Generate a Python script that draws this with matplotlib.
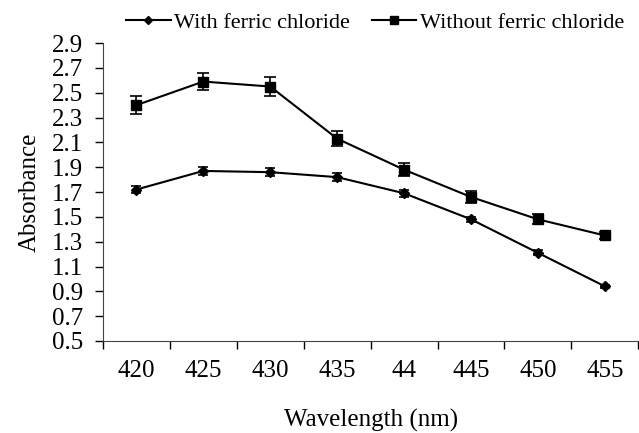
# Absorbance vs wavelength, with and without ferric chloride
import numpy as np
import matplotlib
matplotlib.use("Agg")
import matplotlib.pyplot as plt
from matplotlib.lines import Line2D

plt.rcParams['font.family'] = ['Liberation Serif', 'DejaVu Serif']

wavelength_labels = ["420", "425", "430", "435", "44", "445", "450", "455"]
with_fecl3 = [1.72, 1.87, 1.86, 1.82, 1.69, 1.48, 1.21, 0.94]
with_err = [0.03, 0.03, 0.03, 0.03, 0.03, 0.02, 0.02, 0.01]
without_fecl3 = [2.40, 2.59, 2.55, 2.13, 1.88, 1.66, 1.48, 1.35]
without_err = [0.07, 0.07, 0.08, 0.06, 0.05, 0.05, 0.04, 0.03]
y_ticks = [0.5, 0.7, 0.9, 1.1, 1.3, 1.5, 1.7, 1.9, 2.1, 2.3, 2.5, 2.7, 2.9]


def main():
    fig = plt.figure(figsize=(6.39, 4.33), dpi=100)
    ax = fig.add_axes([0.161, 0.2125, 0.838, 0.688])
    x = np.arange(len(wavelength_labels))

    ax.errorbar(x, with_fecl3, yerr=with_err, color='black', marker='D',
                markersize=5, linewidth=1.5, capsize=3.5, elinewidth=1.2,
                capthick=1.2)
    ax.errorbar(x, without_fecl3, yerr=without_err, color='black', marker='s',
                markersize=7, linewidth=1.5, capsize=4, elinewidth=1.2,
                capthick=1.2)

    ax.set_xlim(-0.5, len(x) - 0.5)
    ax.set_ylim(0.5, 2.9)
    ax.set_yticks(y_ticks)
    ax.set_yticklabels([f"{v:.1f}" for v in y_ticks])
    ax.set_xticks(x)
    ax.set_xticklabels(wavelength_labels)
    ax.set_xticks(np.arange(len(x) + 1) - 0.5, minor=True)
    ax.tick_params(axis='x', which='major', length=0, pad=14, labelsize=18)
    ax.tick_params(axis='x', which='minor', length=6, direction='out', width=1)
    ax.tick_params(axis='y', length=6, direction='out', width=1, labelsize=18, pad=8)

    for side in ['top', 'right']:
        ax.spines[side].set_visible(False)
    for side in ['left', 'bottom']:
        ax.spines[side].set_color('#444444')

    ax.set_ylabel("Absorbance", fontsize=18, labelpad=8)
    ax.set_xlabel("Wavelength (nm)", fontsize=18, labelpad=19)

    handles = [
        Line2D([], [], color='black', marker='D', markersize=4, linewidth=1.5),
        Line2D([], [], color='black', marker='s', markersize=6, linewidth=1.5),
    ]
    labels = ["With ferric chloride", "Without ferric chloride"]
    fig.legend(handles, labels, loc='center', bbox_to_anchor=(0.587, 0.947),
               ncol=2, frameon=False, fontsize=16, handlelength=2.0,
               handletextpad=0.15, columnspacing=1.0)

    fig.savefig("out.png", dpi=100)


if __name__ == '__main__':
    main()
